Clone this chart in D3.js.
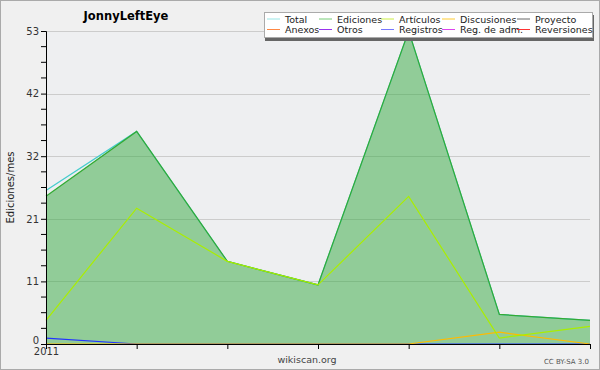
<!DOCTYPE html>
<html>
<head>
<meta charset="utf-8">
<script src="https://cdn.jsdelivr.net/npm/d3@7"></script>
<style>
  body { margin: 0; background: #f0f0f0; }
  text { font-family: "DejaVu Sans", sans-serif; }
</style>
</head>
<body>
<svg id="chart" width="600" height="370"></svg>
<script>
// monthly edit counts, 2011
const months = ["2011-01", "2011-02", "2011-03", "2011-04", "2011-05", "2011-06", "2011-07"];
const tickLabels = ["2011", "", "", "", "", "", ""];
const total = [26, 36, 14, 10, 53, 5, 4];
const ediciones = [25, 36, 14, 10, 53, 5, 4];
const articulos = [4, 23, 14, 10, 25, 1, 3];
const discusiones = [0, 0, 0, 0, 0, 2, 0];
const registros = [1, 0, 0, 0, 0, 0, 0];
const yMax = 53;

const legendItems = [
    {name: "Total", color: "#99e6e6"},
    {name: "Ediciones", color: "#77cc77"},
    {name: "Artículos", color: "#ccee44"},
    {name: "Discusiones", color: "#ffcc33"},
    {name: "Proyecto", color: "#666666"},
    {name: "Anexos", color: "#ff8844"},
    {name: "Otros", color: "#9933ee"},
    {name: "Registros", color: "#7777ff"},
    {name: "Reg. de adm.", color: "#dd44ee"},
    {name: "Reversiones", color: "#ff3333"}
];

const W = 600, H = 370;
const margin = {left: 46, right: 10, top: 31, bottom: 26};

const svg = d3.select("#chart");

// outer frame
svg.append("rect")
    .attr("x", 0.5).attr("y", 0.5)
    .attr("width", W - 1).attr("height", H - 1)
    .attr("fill", "#f0f0f0")
    .attr("stroke", "#aaaaaa");

const x = d3.scalePoint()
    .domain(months)
    .range([margin.left, W - margin.right]);

const y = d3.scaleLinear()
    .domain([0, yMax])
    .range([H - margin.bottom, margin.top]);

// plot background
svg.append("rect")
    .attr("x", margin.left).attr("y", margin.top)
    .attr("width", W - margin.right - margin.left)
    .attr("height", H - margin.bottom - margin.top)
    .attr("fill", "#eeeff1");

const majorTicks = d3.range(1, 6).map(i => yMax * i / 5);
const minorTicks = d3.range(0, 21).map(i => yMax * i / 20).filter((v, i) => i % 4 !== 0);

// grid
svg.append("g")
    .selectAll("line")
    .data(majorTicks)
    .join("line")
    .attr("x1", margin.left).attr("x2", W - margin.right)
    .attr("y1", d => Math.round(y(d)) + 0.5)
    .attr("y2", d => Math.round(y(d)) + 0.5)
    .attr("stroke", "#cccccc");

// Ediciones filled area
svg.append("path")
    .datum(ediciones)
    .attr("d", d3.area()
        .x((d, i) => x(months[i]))
        .y0(y(0))
        .y1(d => y(d)))
    .attr("fill", "#33aa3f")
    .attr("fill-opacity", 0.5);

const line = d3.line()
    .x((d, i) => x(months[i]))
    .y(d => y(d));

const series = [
    {values: registros, color: "#2233ff"},
    {values: discusiones, color: "#ffbb00"},
    {values: total, color: "#44cccc"},
    {values: ediciones, color: "#33aa33"},
    {values: articulos, color: "#aaee00"}
];

svg.append("g")
    .selectAll("path")
    .data(series)
    .join("path")
    .attr("d", s => line(s.values))
    .attr("fill", "none")
    .attr("stroke", s => s.color)
    .attr("stroke-width", 1.2);

// y axis
const yAxis = svg.append("g")
    .attr("transform", `translate(${margin.left},0)`)
    .call(d3.axisLeft(y)
        .tickValues([0, ...majorTicks])
        .tickFormat(d => Math.round(d))
        .tickSize(5)
        .tickPadding(2));
yAxis.select(".domain").attr("stroke", "#000");
yAxis.selectAll("text").attr("font-size", 10).attr("fill", "#333");
// lift the 0 label a little so it clears the year below it
yAxis.selectAll(".tick text").filter(d => d === 0).attr("dy", "-0.05em");

svg.append("g")
    .selectAll("line")
    .data(minorTicks)
    .join("line")
    .attr("x1", margin.left - 5).attr("x2", margin.left)
    .attr("y1", d => y(d)).attr("y2", d => y(d))
    .attr("stroke", "#000");

// x axis
const xAxis = svg.append("g")
    .attr("transform", `translate(0,${H - margin.bottom})`)
    .call(d3.axisBottom(x)
        .tickFormat((d, i) => tickLabels[i])
        .tickSize(5)
        .tickPadding(-1));
xAxis.select(".domain").attr("stroke", "#000");
xAxis.selectAll("text").attr("font-size", 10).attr("fill", "#333");

// titles
svg.append("text")
    .attr("x", 126).attr("y", 20)
    .attr("text-anchor", "middle")
    .attr("font-size", 11.5)
    .attr("font-weight", "bold")
    .text("JonnyLeftEye");

svg.append("text")
    .attr("transform", `translate(14,${(margin.top + H - margin.bottom) / 2}) rotate(-90)`)
    .attr("text-anchor", "middle")
    .attr("font-size", 10)
    .attr("fill", "#222")
    .text("Ediciones/mes");

svg.append("text")
    .attr("x", 307).attr("y", 363)
    .attr("text-anchor", "middle")
    .attr("font-size", 9.5)
    .attr("fill", "#444")
    .text("wikiscan.org");

svg.append("text")
    .attr("x", 589).attr("y", 364)
    .attr("text-anchor", "end")
    .attr("font-size", 7)
    .attr("fill", "#555")
    .text("CC BY-SA 3.0");

// legend
const legend = svg.append("g").attr("transform", "translate(264,12)");
legend.append("rect")
    .attr("x", 1).attr("y", 3)
    .attr("width", 329).attr("height", 26)
    .attr("fill", "#666");
legend.append("rect")
    .attr("x", 0.5).attr("y", 0.5)
    .attr("width", 328).attr("height", 25)
    .attr("fill", "#fff")
    .attr("stroke", "#aaa");

const colX = [3, 55, 117, 178, 253];
const items = legend.selectAll(".item")
    .data(legendItems)
    .join("g")
    .attr("class", "item")
    .attr("transform", (d, i) => `translate(${colX[i % 5]},${i < 5 ? 7 : 17.5})`);
items.append("line")
    .attr("x1", 0).attr("x2", 13)
    .attr("stroke", d => d.color);
items.append("text")
    .attr("x", 18).attr("y", 3.5)
    .attr("font-family", "'DejaVu Sans Condensed', 'DejaVu Sans', sans-serif")
    .attr("font-size", 9.5)
    .attr("fill", "#222")
    .text(d => d.name);
</script>
</body>
</html>
